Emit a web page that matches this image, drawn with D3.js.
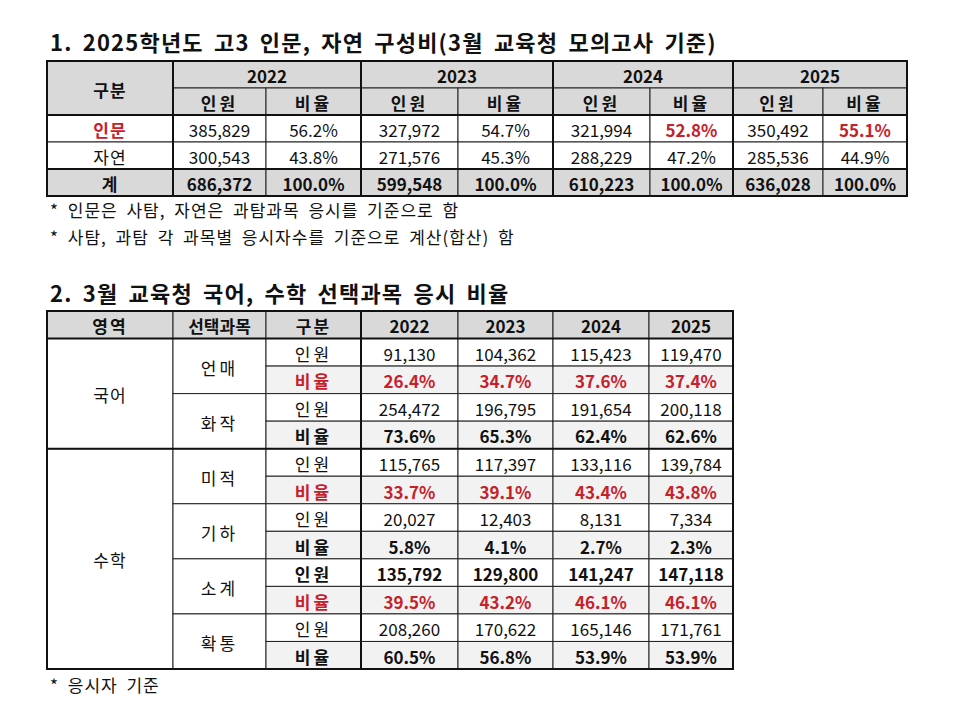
<!DOCTYPE html>
<html><head><meta charset="utf-8">
<script src="https://cdn.jsdelivr.net/npm/d3@7"></script>
<style>
html,body{margin:0;padding:0;background:#fff;}
svg{display:block;}
text{font-family:"Noto Sans CJK KR","Noto Sans",sans-serif;}
</style></head>
<body>
<svg id="c" width="956" height="727"></svg>
<script>
// ---------- DATA ----------
const years = ["2022","2023","2024","2025"];
const title1 = "1. 2025학년도 고3 인문, 자연 구성비(3월 교육청 모의고사 기준)";
const title2 = "2. 3월 교육청 국어, 수학 선택과목 응시 비율";
const notes1 = ["* 인문은 사탐, 자연은 과탐과목 응시를 기준으로 함","* 사탐, 과탐 각 과목별 응시자수를 기준으로 계산(합산) 함"];
const note2 = "* 응시자 기준";

const t1Groups = ["인문","자연","계"];
const humCount = [385829, 327972, 321994, 350492];
const humRate  = [56.2, 54.7, 52.8, 55.1];
const sciCount = [300543, 271576, 288229, 285536];
const sciRate  = [43.8, 45.3, 47.2, 44.9];
const totCount = [686372, 599548, 610223, 636028];
const totRate  = [100.0, 100.0, 100.0, 100.0];
const humRateHighlight = [false, false, true, true];

const t2Header = ["영역","선택과목","구분"];
const areas = ["국어","수학"];
const subjects = ["언매","화작","미적","기하","소계","확통"];
const subjectArea = ["국어","국어","수학","수학","수학","수학"];
const count언매 = [91130, 104362, 115423, 119470];
const rate언매  = [26.4, 34.7, 37.6, 37.4];
const count화작 = [254472, 196795, 191654, 200118];
const rate화작  = [73.6, 65.3, 62.4, 62.6];
const count미적 = [115765, 117397, 133116, 139784];
const rate미적  = [33.7, 39.1, 43.4, 43.8];
const count기하 = [20027, 12403, 8131, 7334];
const rate기하  = [5.8, 4.1, 2.7, 2.3];
const count소계 = [135792, 129800, 141247, 147118];
const rate소계  = [39.5, 43.2, 46.1, 46.1];
const count확통 = [208260, 170622, 165146, 171761];
const rate확통  = [60.5, 56.8, 53.9, 53.9];
const redRate   = [true, false, true, false, true, false];
const boldCount = [false, false, false, false, true, false];

// ---------- LAYOUT ----------
const RED = "#c8202a", HEAD = "#d9d9d9", LIGHT = "#f2f2f2";
const svg = d3.select("#c");
const fmtN = d3.format(",");
const fmtP = v => d3.format(".1f")(v) + "%";

function cellText(g, x0, x1, y0, y1, txt, opt = {}) {
  g.append("text")
    .attr("x", (x0 + x1) / 2).attr("y", (y0 + y1) / 2 + 1)
    .attr("text-anchor", "middle").attr("dominant-baseline", "central")
    .attr("font-size", opt.size || 17)
    .attr("font-weight", opt.bold ? 700 : 400)
    .attr("fill", opt.color || "#111")
    .attr("letter-spacing", opt.ls || 0)
    .text(txt);
}
function rect(g, x0, x1, y0, y1, fill) {
  g.append("rect").attr("x", x0).attr("y", y0).attr("width", x1 - x0).attr("height", y1 - y0)
    .attr("fill", fill || "none").attr("stroke", "#222").attr("stroke-width", 1);
}
function line(g, x0, y0, x1, y1, w) {
  g.append("line").attr("x1", x0).attr("y1", y0).attr("x2", x1).attr("y2", y1)
    .attr("stroke", "#111").attr("stroke-width", w);
}
function title(txt, y) {
  svg.append("text").attr("x", 50).attr("y", y).attr("font-size", 22).attr("font-weight", 700)
    .attr("letter-spacing", 1.2).attr("word-spacing", 4).attr("fill", "#111").text(txt);
}
function note(txt, y) {
  svg.append("text").attr("x", 50).attr("y", y).attr("font-size", 17)
    .attr("letter-spacing", 1).attr("word-spacing", 4).attr("fill", "#111").text(txt);
}

// ---------- TABLE 1 ----------
title(title1, 51);

const g1 = svg.append("g");
const t1Left = 47, t1LabelRight = 173;
const yearEdges1 = d3.scaleOrdinal().domain(years).range([[173,266,361],[361,458,553],[553,650,733],[733,823,907]]);
const t1Rows = d3.scaleBand().domain(["h1","h2",...t1Groups]).range([61, 196]);
const rb = t1Rows.bandwidth();

rect(g1, t1Left, t1LabelRight, t1Rows("h1"), t1Rows("h2") + rb, HEAD);
cellText(g1, t1Left, t1LabelRight, t1Rows("h1"), t1Rows("h2") + rb, "구분", {bold: true, ls: 1});
years.forEach(y => {
  const [a, b, c] = yearEdges1(y);
  rect(g1, a, c, t1Rows("h1"), t1Rows("h1") + rb, HEAD);
  cellText(g1, a, c, t1Rows("h1"), t1Rows("h1") + rb, y, {bold: true});
  rect(g1, a, b, t1Rows("h2"), t1Rows("h2") + rb, HEAD);
  cellText(g1, a, b, t1Rows("h2"), t1Rows("h2") + rb, "인원", {bold: true, ls: 3});
  rect(g1, b, c, t1Rows("h2"), t1Rows("h2") + rb, HEAD);
  cellText(g1, b, c, t1Rows("h2"), t1Rows("h2") + rb, "비율", {bold: true, ls: 3});
});
const t1Data = {
  "인문": {cnt: humCount, rate: humRate},
  "자연": {cnt: sciCount, rate: sciRate},
  "계":   {cnt: totCount, rate: totRate}
};
t1Groups.forEach(gname => {
  const y0 = t1Rows(gname), y1 = y0 + rb;
  const isTot = gname === "계";
  const fill = isTot ? HEAD : "#fff";
  rect(g1, t1Left, t1LabelRight, y0, y1, fill);
  cellText(g1, t1Left, t1LabelRight, y0, y1, gname,
    {bold: gname !== "자연", color: gname === "인문" ? RED : "#111", ls: 1});
  years.forEach((yr, i) => {
    const [a, b, c] = yearEdges1(yr);
    rect(g1, a, b, y0, y1, fill);
    cellText(g1, a, b, y0, y1, fmtN(t1Data[gname].cnt[i]), {bold: isTot});
    rect(g1, b, c, y0, y1, fill);
    const hl = gname === "인문" && humRateHighlight[i];
    cellText(g1, b, c, y0, y1, fmtP(t1Data[gname].rate[i]), {bold: isTot || hl, color: hl ? RED : "#111"});
  });
});
[t1LabelRight, ...years.slice(1).map(y => yearEdges1(y)[0])].forEach(x => line(g1, x, 61, x, 196, 2));
line(g1, t1Left, t1Rows("인문"), 907, t1Rows("인문"), 2);
line(g1, t1Left, t1Rows("계"), 907, t1Rows("계"), 2);
g1.append("rect").attr("x", t1Left).attr("y", 61).attr("width", 907 - t1Left).attr("height", 135)
  .attr("fill", "none").attr("stroke", "#111").attr("stroke-width", 2);

notes1.forEach((n, i) => note(n, 217 + i * 27));

// ---------- TABLE 2 ----------
title(title2, 302);

const g2 = svg.append("g");
const colKeys2 = [...t2Header, ...years];
const colEdges2 = d3.scaleOrdinal().domain(colKeys2).range([[47,173],[173,266],[266,361],[361,458],[458,553],[553,649],[649,733]]);
const rowKeys2 = ["head"];
subjects.forEach(s => { rowKeys2.push(s + "|인원", s + "|비율"); });
const rows2 = d3.scaleBand().domain(rowKeys2).range([311, 669]);
const rb2 = rows2.bandwidth();
const L2 = 47, R2 = 733;

colKeys2.forEach(k => {
  const [a, b] = colEdges2(k);
  rect(g2, a, b, rows2("head"), rows2("head") + rb2, HEAD);
  cellText(g2, a, b, rows2("head"), rows2("head") + rb2, k, {bold: true, ls: k.length <= 2 ? 2 : 0});
});
const t2Data = {
  "언매": [count언매, rate언매], "화작": [count화작, rate화작], "미적": [count미적, rate미적],
  "기하": [count기하, rate기하], "소계": [count소계, rate소계], "확통": [count확통, rate확통]
};
areas.forEach(ar => {
  const subs = subjects.filter((s, i) => subjectArea[i] === ar);
  const y0 = rows2(subs[0] + "|인원"), y1 = rows2(subs[subs.length - 1] + "|비율") + rb2;
  const [a, b] = colEdges2("영역");
  rect(g2, a, b, y0, y1, "#fff");
  cellText(g2, a, b, y0, y1, ar, {ls: 1});
});
subjects.forEach((s, si) => {
  const yA = rows2(s + "|인원"), yB = rows2(s + "|비율"), yE = yB + rb2;
  const [sa, sb] = colEdges2("선택과목");
  rect(g2, sa, sb, yA, yE, "#fff");
  cellText(g2, sa, sb, yA, yE, s, {ls: 3});
  const [ga, gb] = colEdges2("구분");
  rect(g2, ga, gb, yA, yB, "#fff");
  cellText(g2, ga, gb, yA, yB, "인원", {bold: boldCount[si], ls: 3});
  rect(g2, ga, gb, yB, yE, LIGHT);
  cellText(g2, ga, gb, yB, yE, "비율", {bold: true, color: redRate[si] ? RED : "#111", ls: 3});
  years.forEach((yr, i) => {
    const [a, b] = colEdges2(yr);
    rect(g2, a, b, yA, yB, "#fff");
    cellText(g2, a, b, yA, yB, fmtN(t2Data[s][0][i]), {bold: boldCount[si]});
    rect(g2, a, b, yB, yE, LIGHT);
    cellText(g2, a, b, yB, yE, fmtP(t2Data[s][1][i]), {bold: true, color: redRate[si] ? RED : "#111"});
  });
});
line(g2, colEdges2("2022")[0], 311, colEdges2("2022")[0], 669, 2);
line(g2, L2, rows2("언매|인원"), R2, rows2("언매|인원"), 2);
line(g2, L2, rows2("미적|인원"), R2, rows2("미적|인원"), 2);
g2.append("rect").attr("x", L2).attr("y", 311).attr("width", R2 - L2).attr("height", 669 - 311)
  .attr("fill", "none").attr("stroke", "#111").attr("stroke-width", 2);

note(note2, 692);
</script>
</body></html>
